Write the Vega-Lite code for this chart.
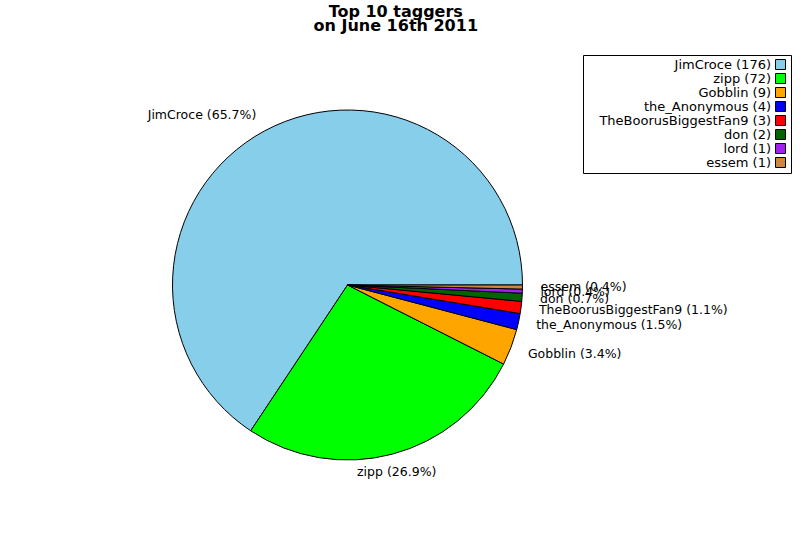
{
  "$schema": "https://vega.github.io/schema/vega-lite/v6.json",
  "width": 800,
  "height": 540,
  "autosize": {"type": "fit", "contains": "padding"},
  "padding": {"left": 0, "top": 4, "right": 8, "bottom": 25},
  "background": "white",
  "title": {
    "text": ["Top 10 taggers", "on June 16th 2011"],
    "font": "DejaVu Sans",
    "fontSize": 16,
    "fontWeight": "bold",
    "lineHeight": 14,
    "anchor": "middle",
    "frame": "bounds",
    "color": "black",
    "offset": 21
  },
  "data": {
    "values": [
      {"rank": 1, "name": "JimCroce", "count": 176, "label": "JimCroce (65.7%)", "legend": "JimCroce (176)"},
      {"rank": 2, "name": "zipp", "count": 72, "label": "zipp (26.9%)", "legend": "zipp (72)"},
      {"rank": 3, "name": "Gobblin", "count": 9, "label": "Gobblin (3.4%)", "legend": "Gobblin (9)"},
      {"rank": 4, "name": "the_Anonymous", "count": 4, "label": "the_Anonymous (1.5%)", "legend": "the_Anonymous (4)"},
      {"rank": 5, "name": "TheBoorusBiggestFan9", "count": 3, "label": "TheBoorusBiggestFan9 (1.1%)", "legend": "TheBoorusBiggestFan9 (3)"},
      {"rank": 6, "name": "don", "count": 2, "label": "don (0.7%)", "legend": "don (2)"},
      {"rank": 7, "name": "lord", "count": 1, "label": "lord (0.4%)", "legend": "lord (1)"},
      {"rank": 8, "name": "essem", "count": 1, "label": "essem (0.4%)", "legend": "essem (1)"}
    ]
  },
  "encoding": {
    "theta": {"field": "count", "type": "quantitative", "stack": true, "scale": {"range": [1.5707963, 7.8539816]}},
    "order": {"field": "rank", "type": "quantitative", "sort": "descending"}
  },
  "layer": [
    {
      "mark": {"type": "arc", "outerRadius": 175, "stroke": "black", "strokeWidth": 1},
      "encoding": {
        "color": {
          "field": "legend",
          "type": "nominal",
          "scale": {
            "domain": ["JimCroce (176)", "zipp (72)", "Gobblin (9)", "the_Anonymous (4)", "TheBoorusBiggestFan9 (3)", "don (2)", "lord (1)", "essem (1)"],
            "range": ["#87CEEB", "#00FF00", "#FFA500", "#0000FF", "#FF0000", "#006400", "#A020F0", "#CD853F"]
          },
          "legend": {
            "title": null,
            "orient": "right",
            "offset": -112,
            "symbolType": "square",
            "symbolSize": 100,
            "symbolStrokeColor": "black",
            "symbolStrokeWidth": 1,
            "symbolOpacity": 1,
            "symbolOffset": 188,
            "labelAlign": "right",
            "labelOffset": -16,
            "labelFont": "DejaVu Sans",
            "labelFontSize": 13,
            "labelColor": "black",
            "labelLimit": 300,
            "rowPadding": -6,
            "padding": 3,
            "strokeColor": "black",
            "fillColor": "white",
            "cornerRadius": 0
          }
        }
      }
    },
    {
      "mark": {
        "type": "text",
        "radius": 193,
        "font": "DejaVu Sans",
        "fontSize": 12.5,
        "color": "black",
        "baseline": "middle",
        "align": {"expr": "datum.name === 'JimCroce' ? 'right' : (datum.name === 'zipp' ? 'center' : 'left')"}
      },
      "encoding": {
        "text": {"field": "label", "type": "nominal"},
        "detail": {"field": "legend", "type": "nominal"}
      }
    }
  ],
  "config": {"view": {"stroke": null}}
}
